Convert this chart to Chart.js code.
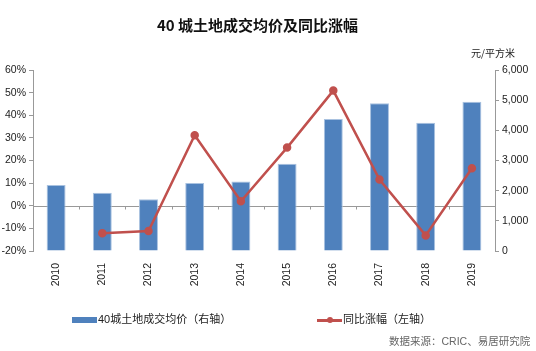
<!DOCTYPE html>
<html>
<head>
<meta charset="utf-8">
<script src="https://cdn.jsdelivr.net/npm/chart.js@4.4.1/dist/chart.umd.min.js"></script>
<style>
  body { margin: 0; background: #fff; font-family: "Liberation Sans", "Noto Sans CJK SC", sans-serif; }
  #wrap { position: relative; width: 536px; height: 351px; overflow: hidden; }
  #c { position: absolute; left: 0; top: 0; }
  .txt { position: absolute; white-space: nowrap; color: #222; }
  #title { left: 157px; top: 14px; font: bold 15px "Noto Sans CJK SC", sans-serif; color: #111; }
  #unit { left: 471px; top: 45px; font: 10px "Noto Sans CJK SC", sans-serif; }
  .leg { top: 310px; font: 11px "Liberation Sans", "Noto Sans CJK SC", sans-serif; }
  #src { left: 389px; top: 333px; font: 10.5px "Liberation Sans", "Noto Sans CJK SC", sans-serif; color: #666; }
</style>
</head>
<body>
<div id="wrap">
  <canvas id="c" width="536" height="351"></canvas>
  <div class="txt" id="title">40 城土地成交均价及同比涨幅</div>
  <div class="txt" id="unit">元/平方米</div>
  <div class="txt leg" style="left:72px;">
    <span style="display:inline-block;width:25px;height:6px;background:#4F81BD;vertical-align:middle;margin-right:1px;"></span>40城土地成交均价（右轴）
  </div>
  <div class="txt leg" style="left:317px;">
    <span style="display:inline-block;position:relative;width:25px;height:3px;background:#C0504D;vertical-align:middle;margin-right:1px;">
      <span style="position:absolute;left:10px;top:-1.5px;width:6px;height:6px;border-radius:3px;background:#C0504D;"></span>
    </span>同比涨幅（左轴）
  </div>
  <div class="txt" id="src">数据来源：CRIC、易居研究院</div>
</div>
<script>
// data
const years = ['2010', '2011', '2012', '2013', '2014', '2015', '2016', '2017', '2018', '2019'];
const avgPrice = [2190, 1930, 1715, 2255, 2300, 2895, 4375, 4895, 4255, 4950];   // 元/平方米, right axis
const yoyChange = [null, -12.1, -11.2, 31.2, 2.0, 25.7, 50.9, 11.6, -13.1, 16.6]; // %, left axis

const axisGrey = '#999';
const tickFont = { family: '"Liberation Sans", Arial, sans-serif', size: 10.5 };

// zero line with small ticks at category boundaries, drawn behind bars
const zeroLine = {
    id: 'zeroLine',
    beforeDatasetsDraw(chart) {
        const { ctx, chartArea, scales } = chart;
        const y = Math.round(scales.yL.getPixelForValue(0)) + 0.5;
        ctx.save();
        ctx.strokeStyle = axisGrey;
        ctx.lineWidth = 1;
        ctx.beginPath();
        ctx.moveTo(chartArea.left, y);
        ctx.lineTo(chartArea.right, y);
        const step = (chartArea.right - chartArea.left) / years.length;
        for (let i = 1; i < years.length; i++) {
            const x = Math.round(chartArea.left + i * step) + 0.5;
            ctx.moveTo(x, y);
            ctx.lineTo(x, y + 3);
        }
        ctx.stroke();
        ctx.restore();
    }
};

new Chart(document.getElementById('c'), {
    data: {
        labels: years,
        datasets: [
            {
                type: 'line', label: '同比涨幅（左轴）', data: yoyChange, yAxisID: 'yL', order: 0,
                borderColor: '#C0504D', backgroundColor: '#C0504D', borderWidth: 2.5,
                pointRadius: 3, pointHoverRadius: 3, tension: 0, spanGaps: false
            },
            {
                type: 'bar', label: '40城土地成交均价（右轴）', data: avgPrice, yAxisID: 'yR', order: 1,
                backgroundColor: '#4F81BD', borderColor: '#A9C2E0', borderWidth: 1,
                categoryPercentage: 1, barPercentage: 0.41
            }
        ]
    },
    options: {
        responsive: false, animation: false, devicePixelRatio: 1,
        layout: { padding: { top: 70, left: 0, right: 0, bottom: 0 } },
        plugins: { legend: { display: false }, tooltip: { enabled: false } },
        scales: {
            x: {
                offset: true,
                grid: { display: false }, border: { display: false },
                ticks: { minRotation: 90, maxRotation: 90, padding: 4, color: '#222', font: tickFont },
                afterFit: s => { s.height = 100; }
            },
            yL: {
                position: 'left', min: -20, max: 60,
                grid: { drawOnChartArea: false, tickLength: 4, color: axisGrey },
                border: { color: axisGrey },
                ticks: { stepSize: 10, padding: 3, color: '#222', font: tickFont, callback: v => v + '%' },
                afterFit: s => { s.width = 33; }
            },
            yR: {
                position: 'right', min: 0, max: 6000,
                grid: { drawOnChartArea: false, tickLength: 4, color: axisGrey },
                border: { color: axisGrey },
                ticks: { stepSize: 1000, padding: 3, color: '#222', font: tickFont, callback: v => v.toLocaleString('en-US') },
                afterFit: s => { s.width = 41; }
            }
        }
    },
    plugins: [zeroLine]
});
</script>
</body>
</html>
